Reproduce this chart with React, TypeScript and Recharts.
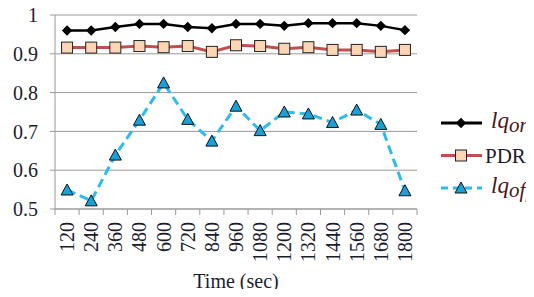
import React from "react";
import {
  LineChart,
  Line,
  XAxis,
  YAxis,
  CartesianGrid,
} from "recharts";

const times = [120, 240, 360, 480, 600, 720, 840, 960, 1080, 1200, 1320, 1440, 1560, 1680, 1800];
const lqOn = [0.96, 0.96, 0.969, 0.977, 0.977, 0.969, 0.966, 0.977, 0.977, 0.972, 0.979, 0.979, 0.979, 0.972, 0.961];
const pdr = [0.916, 0.916, 0.916, 0.92, 0.917, 0.92, 0.905, 0.922, 0.92, 0.913, 0.917, 0.91, 0.91, 0.905, 0.91];
const lqOff = [0.549, 0.521, 0.639, 0.729, 0.825, 0.731, 0.675, 0.765, 0.702, 0.75, 0.745, 0.723, 0.755, 0.718, 0.547];
const yTicks = [0.5, 0.6, 0.7, 0.8, 0.9, 1];

const data = times.map((t, i) => ({
  time: String(t),
  lqOn: lqOn[i],
  pdr: pdr[i],
  lqOff: lqOff[i],
}));

const FONT = "Liberation Serif";
const TEXT = "#1c1c30";
const MAROON = "#4a1518";
const BLUE_LINE = "#2cbcf0";
const BLUE_FILL = "#1aa0d8";
const RED_LINE = "#c0504d";
const PEACH = "#fcd5b4";

const CHART_W = 534;
const CHART_H = 297;
const LEFT = 55;
const RIGHT = 117;
const BAND = (CHART_W - LEFT - RIGHT) / times.length;

// force the serif face on every svg text, whatever recharts puts on it
const fontCss = `
  .chart-box svg text, .chart-box svg tspan { font-family: 'Liberation Serif', serif !important; }
  .chart-box .lq-label, .chart-box .lq-label tspan { font-style: italic; }
`;

const Diamond = (props: any) => {
  const { cx, cy } = props;
  if (cx == null || cy == null) return null;
  const r = 5.2;
  return (
    <path
      d={`M${cx},${cy - r}L${cx + r},${cy}L${cx},${cy + r}L${cx - r},${cy}Z`}
      fill="#000"
    />
  );
};

const Square = (props: any) => {
  const { cx, cy } = props;
  if (cx == null || cy == null) return null;
  const s = 5.5;
  return (
    <rect x={cx - s} y={cy - s} width={s * 2} height={s * 2} fill={PEACH} stroke="#222" strokeWidth={1} />
  );
};

const Triangle = (props: any) => {
  const { cx, cy } = props;
  if (cx == null || cy == null) return null;
  const w = 6;
  return (
    <path
      d={`M${cx},${cy - 6}L${cx + w},${cy + 5}L${cx - w},${cy + 5}Z`}
      fill={BLUE_FILL}
      stroke="#111"
      strokeWidth={1}
    />
  );
};

const TimeTick = (props: any) => {
  const { x, y, payload, index } = props;
  const ax = y - 8;
  return (
    <g>
      <line x1={x - BAND / 2} y1={ax} x2={x - BAND / 2} y2={ax + 6} stroke="#9a9a9a" />
      {index === times.length - 1 && (
        <line x1={x + BAND / 2} y1={ax} x2={x + BAND / 2} y2={ax + 6} stroke="#9a9a9a" />
      )}
      <text
        x={x + 7}
        y={ax + 13}
        transform={`rotate(-90, ${x + 7}, ${ax + 13})`}
        textAnchor="end"
        fontFamily={FONT}
        fontSize={20}
        fill={TEXT}
      >
        {payload.value}
      </text>
    </g>
  );
};

const legendRows = [
  { key: "lqOn", base: "lq", sub: "on", color: "#000", dash: undefined as string | undefined, marker: Diamond },
  { key: "pdr", base: "PDR", sub: "", color: RED_LINE, dash: undefined as string | undefined, marker: Square },
  { key: "lqOff", base: "lq", sub: "off", color: BLUE_LINE, dash: "7 5", marker: Triangle },
];

const ChartLegend = () => (
  <svg width={100} height={100} style={{ position: "absolute", left: 438, top: 110, overflow: "visible" }}>
    {legendRows.map((r, i) => {
      const y = 13 + i * 32.5;
      const M = r.marker;
      return (
        <g key={r.key}>
          <line x1={3} y1={y} x2={44} y2={y} stroke={r.color} strokeWidth={3} strokeDasharray={r.dash} />
          <M cx={23} cy={y} />
          {r.sub ? (
            <text className="lq-label" x={53} y={y + 5} fontSize={23} fill={MAROON}>
              {r.base}
              <tspan dy={4} fontSize={21}>{r.sub}</tspan>
            </text>
          ) : (
            <text x={47} y={y + 7} fontSize={21} fill={TEXT}>
              {r.base}
            </text>
          )}
        </g>
      );
    })}
  </svg>
);

export default function App() {
  return (
    <div
      className="chart-box"
      style={{
        position: "relative",
        margin: -8,
        width: CHART_W,
        height: CHART_H,
        background: "#fff",
        fontFamily: FONT,
      }}
    >
      <style>{fontCss}</style>
      <LineChart
        width={CHART_W}
        height={CHART_H}
        data={data}
        margin={{ top: 15, right: RIGHT, bottom: 0, left: 0 }}
      >
        <CartesianGrid vertical={false} stroke="#9a9a9a" strokeWidth={1} />
        <XAxis
          dataKey="time"
          scale="band"
          interval={0}
          height={88}
          stroke="#9a9a9a"
          tickLine={false}
          tick={<TimeTick />}
          label={{
            value: "Time (sec)",
            position: "insideBottom",
            offset: 9,
            fontFamily: FONT,
            fontSize: 20,
            fill: TEXT,
          }}
        />
        <YAxis
          width={LEFT}
          domain={[0.5, 1]}
          ticks={yTicks}
          interval={0}
          stroke="#9a9a9a"
          tickSize={5}
          tickMargin={12}
          tick={{ fontFamily: FONT, fontSize: 20, fill: TEXT }}
          tickFormatter={(v: number) => String(v)}
        />
        <Line
          dataKey="lqOn"
          stroke="#000"
          strokeWidth={2.5}
          dot={<Diamond />}
          isAnimationActive={false}
        />
        <Line
          dataKey="pdr"
          stroke={RED_LINE}
          strokeWidth={3}
          dot={<Square />}
          isAnimationActive={false}
        />
        <Line
          dataKey="lqOff"
          stroke={BLUE_LINE}
          strokeWidth={3}
          strokeDasharray="9 5"
          dot={<Triangle />}
          isAnimationActive={false}
        />
      </LineChart>
      <ChartLegend />
    </div>
  );
}
